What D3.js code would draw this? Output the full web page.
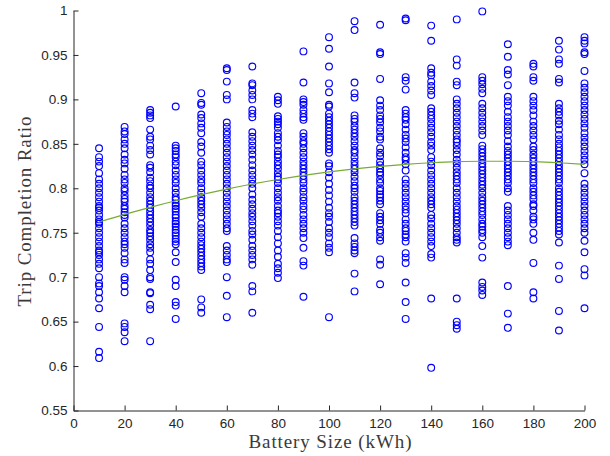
<!DOCTYPE html>
<html><head><meta charset="utf-8">
<script src="https://cdn.jsdelivr.net/npm/d3@7"></script>
<style>body{margin:0;background:#fff;}svg{display:block;}</style>
</head><body>
<svg id="chart" width="610" height="456"></svg>
<script>
const batterySizes = [10,20,30,40,50,60,70,80,90,100,110,120,130,140,150,160,170,180,190,200];
const ratios = [
 [0.845,0.835,0.83,0.825,0.817,0.81,0.805,0.80,0.795,0.79,0.785,0.78,0.778,0.775,0.77,0.765,0.762,0.76,0.755,0.75,0.745,0.74,0.735,0.73,0.728,0.725,0.72,0.715,0.71,0.70,0.693,0.69,0.683,0.676,0.665,0.644,0.616,0.609],
 [0.869,0.864,0.861,0.855,0.85,0.845,0.838,0.832,0.828,0.822,0.815,0.81,0.806,0.80,0.797,0.792,0.788,0.785,0.78,0.777,0.773,0.77,0.767,0.76,0.755,0.75,0.745,0.74,0.737,0.733,0.727,0.72,0.716,0.70,0.697,0.69,0.683,0.648,0.644,0.638,0.628],
 [0.888,0.885,0.882,0.879,0.866,0.858,0.855,0.848,0.843,0.838,0.826,0.823,0.818,0.812,0.808,0.803,0.80,0.795,0.79,0.786,0.782,0.778,0.774,0.77,0.766,0.762,0.758,0.753,0.75,0.746,0.742,0.737,0.733,0.728,0.72,0.715,0.708,0.70,0.698,0.683,0.682,0.669,0.664,0.628],
 [0.892,0.848,0.845,0.842,0.838,0.835,0.83,0.826,0.82,0.815,0.81,0.806,0.80,0.795,0.79,0.787,0.783,0.78,0.777,0.774,0.77,0.767,0.763,0.76,0.757,0.753,0.75,0.747,0.743,0.74,0.737,0.728,0.717,0.697,0.69,0.672,0.668,0.653],
 [0.907,0.896,0.894,0.883,0.879,0.873,0.868,0.862,0.852,0.847,0.84,0.83,0.826,0.82,0.815,0.81,0.806,0.80,0.795,0.79,0.786,0.782,0.778,0.773,0.768,0.76,0.755,0.75,0.745,0.74,0.736,0.732,0.728,0.724,0.72,0.716,0.712,0.708,0.675,0.666,0.66],
 [0.935,0.933,0.92,0.905,0.9,0.874,0.869,0.864,0.86,0.855,0.85,0.845,0.84,0.835,0.83,0.825,0.82,0.815,0.81,0.805,0.80,0.795,0.79,0.785,0.78,0.775,0.77,0.765,0.76,0.755,0.752,0.735,0.73,0.725,0.72,0.717,0.70,0.679,0.655],
 [0.937,0.918,0.916,0.91,0.905,0.9,0.888,0.884,0.88,0.863,0.858,0.853,0.848,0.843,0.838,0.832,0.826,0.82,0.815,0.81,0.805,0.80,0.793,0.787,0.782,0.777,0.772,0.768,0.763,0.758,0.752,0.748,0.742,0.735,0.73,0.725,0.72,0.714,0.69,0.684,0.66],
 [0.903,0.899,0.895,0.881,0.878,0.875,0.872,0.868,0.862,0.858,0.854,0.848,0.842,0.838,0.835,0.83,0.826,0.822,0.817,0.813,0.81,0.806,0.80,0.795,0.79,0.786,0.78,0.775,0.772,0.768,0.763,0.758,0.752,0.745,0.738,0.73,0.723,0.715,0.71,0.705,0.699],
 [0.954,0.919,0.9,0.897,0.894,0.888,0.884,0.88,0.877,0.862,0.858,0.853,0.85,0.845,0.84,0.835,0.83,0.826,0.822,0.818,0.814,0.81,0.806,0.80,0.796,0.79,0.786,0.78,0.776,0.77,0.765,0.76,0.755,0.75,0.744,0.733,0.718,0.713,0.678],
 [0.97,0.957,0.937,0.918,0.908,0.894,0.892,0.884,0.88,0.876,0.872,0.868,0.864,0.86,0.856,0.852,0.848,0.844,0.84,0.828,0.825,0.818,0.812,0.805,0.798,0.792,0.785,0.778,0.772,0.768,0.762,0.755,0.75,0.745,0.738,0.733,0.728,0.655],
 [0.988,0.978,0.919,0.907,0.902,0.882,0.878,0.875,0.87,0.866,0.862,0.858,0.853,0.848,0.843,0.84,0.835,0.83,0.826,0.822,0.818,0.813,0.808,0.803,0.80,0.796,0.79,0.786,0.782,0.778,0.774,0.77,0.766,0.762,0.758,0.744,0.738,0.734,0.73,0.727,0.704,0.684],
 [0.984,0.953,0.951,0.923,0.899,0.893,0.888,0.882,0.878,0.874,0.868,0.864,0.858,0.855,0.845,0.84,0.836,0.83,0.826,0.822,0.818,0.815,0.81,0.806,0.80,0.797,0.793,0.79,0.786,0.782,0.772,0.768,0.764,0.76,0.753,0.75,0.745,0.741,0.72,0.714,0.692],
 [0.991,0.989,0.925,0.921,0.911,0.888,0.884,0.88,0.877,0.872,0.866,0.86,0.856,0.852,0.846,0.84,0.835,0.832,0.827,0.82,0.81,0.805,0.80,0.795,0.79,0.785,0.78,0.776,0.772,0.765,0.76,0.755,0.752,0.748,0.745,0.74,0.727,0.722,0.716,0.694,0.672,0.653],
 [0.983,0.966,0.935,0.93,0.927,0.92,0.915,0.91,0.905,0.89,0.886,0.882,0.878,0.873,0.868,0.863,0.858,0.852,0.848,0.843,0.835,0.83,0.826,0.82,0.815,0.81,0.805,0.80,0.795,0.79,0.786,0.782,0.778,0.77,0.766,0.76,0.755,0.75,0.745,0.74,0.735,0.726,0.722,0.676,0.598],
 [0.99,0.945,0.938,0.92,0.916,0.9,0.895,0.89,0.885,0.88,0.875,0.87,0.865,0.86,0.855,0.852,0.848,0.843,0.838,0.832,0.828,0.823,0.818,0.814,0.81,0.806,0.80,0.795,0.79,0.785,0.78,0.776,0.772,0.768,0.764,0.76,0.755,0.75,0.745,0.742,0.739,0.676,0.65,0.646,0.642],
 [0.999,0.925,0.921,0.917,0.912,0.907,0.895,0.89,0.885,0.88,0.875,0.87,0.865,0.86,0.848,0.844,0.84,0.836,0.832,0.828,0.824,0.82,0.816,0.812,0.808,0.804,0.80,0.795,0.79,0.786,0.782,0.778,0.774,0.77,0.765,0.76,0.757,0.753,0.75,0.745,0.735,0.722,0.694,0.689,0.685,0.68],
 [0.962,0.948,0.933,0.928,0.916,0.903,0.898,0.893,0.886,0.88,0.875,0.87,0.865,0.86,0.853,0.847,0.842,0.838,0.834,0.83,0.826,0.822,0.818,0.814,0.81,0.806,0.80,0.796,0.78,0.775,0.77,0.765,0.76,0.755,0.75,0.745,0.74,0.736,0.69,0.659,0.643],
 [0.94,0.937,0.925,0.921,0.903,0.898,0.893,0.888,0.882,0.875,0.87,0.865,0.86,0.855,0.847,0.843,0.838,0.834,0.83,0.826,0.822,0.818,0.814,0.81,0.806,0.80,0.796,0.792,0.788,0.782,0.78,0.775,0.768,0.765,0.76,0.75,0.742,0.716,0.683,0.676],
 [0.966,0.956,0.945,0.94,0.923,0.919,0.895,0.89,0.886,0.882,0.876,0.872,0.866,0.86,0.855,0.85,0.846,0.842,0.838,0.834,0.83,0.826,0.822,0.818,0.814,0.81,0.806,0.80,0.796,0.792,0.788,0.784,0.78,0.776,0.772,0.768,0.764,0.76,0.756,0.752,0.748,0.739,0.713,0.698,0.662,0.64],
 [0.97,0.966,0.963,0.953,0.951,0.932,0.918,0.913,0.908,0.903,0.898,0.893,0.888,0.883,0.878,0.873,0.868,0.862,0.857,0.852,0.847,0.842,0.837,0.832,0.827,0.817,0.805,0.80,0.795,0.79,0.785,0.78,0.775,0.77,0.765,0.76,0.755,0.75,0.741,0.728,0.709,0.702,0.665]
];
const fitX = [10,20,30,40,50,60,70,80,90,100,110,120,130,140,150,160,170,180,190,200];
const fitY = [0.762,0.7706,0.7786,0.786,0.7928,0.7991,0.8048,0.8099,0.8145,0.8185,0.8219,0.8247,0.827,0.8287,0.8299,0.8304,0.8304,0.8299,0.8287,0.827];
const xTicks = [0,20,40,60,80,100,120,140,160,180,200];
const yTicks = [0.55,0.6,0.65,0.7,0.75,0.8,0.85,0.9,0.95,1];

const svg = d3.select("#chart");
const x = d3.scaleLinear().domain([0,200]).range([73.5,584.5]);
const y = d3.scaleLinear().domain([0.55,1]).range([410.5,10.5]);
const axisColor = "#262626";

const points = [];
batterySizes.forEach((b,i)=>ratios[i].forEach(v=>points.push({b,v})));

svg.append("g").selectAll("circle").data(points).join("circle")
  .attr("cx",d=>x(d.b)).attr("cy",d=>y(d.v)).attr("r",3.4)
  .attr("fill","none").attr("stroke","#0000ff").attr("stroke-width",1.15);

const line = d3.line().x((d,i)=>x(fitX[i])).y(d=>y(d)).curve(d3.curveMonotoneX);
svg.append("path").datum(fitY).attr("d",line)
  .attr("fill","none").attr("stroke","#77ac30").attr("stroke-width",1.2);

const xAxis = svg.append("g").attr("transform","translate(0,410.5)")
  .call(d3.axisBottom(x).tickValues(xTicks).tickSizeInner(-5).tickSizeOuter(0).tickPadding(8).tickFormat(d3.format("d")));
const yAxis = svg.append("g").attr("transform","translate(73.5,0)")
  .call(d3.axisLeft(y).tickValues(yTicks).tickSizeInner(-5).tickSizeOuter(0).tickPadding(6).tickFormat(d=>d===1?"1":d3.format("")(+d.toFixed(2))));
[xAxis,yAxis].forEach(a=>{
  a.select(".domain").attr("stroke",axisColor);
  a.selectAll(".tick line").attr("stroke",axisColor);
  a.selectAll(".tick text").attr("fill",axisColor)
    .style("font-family","'Liberation Sans', Arial, sans-serif").style("font-size","13.5px");
});

svg.append("text").attr("x",330).attr("y",447.5).attr("text-anchor","middle")
  .attr("textLength",163).attr("lengthAdjust","spacing")
  .style("font-family","'Liberation Serif','Times New Roman',serif").style("font-size","19px")
  .attr("fill","#3a3a3a").text("Battery Size (kWh)");
svg.append("text").attr("transform","translate(31,211.5) rotate(-90)").attr("text-anchor","middle")
  .attr("textLength",190).attr("lengthAdjust","spacing")
  .style("font-family","'Liberation Serif','Times New Roman',serif").style("font-size","19px")
  .attr("fill","#3a3a3a").text("Trip Completion Ratio");
</script>
</body></html>
